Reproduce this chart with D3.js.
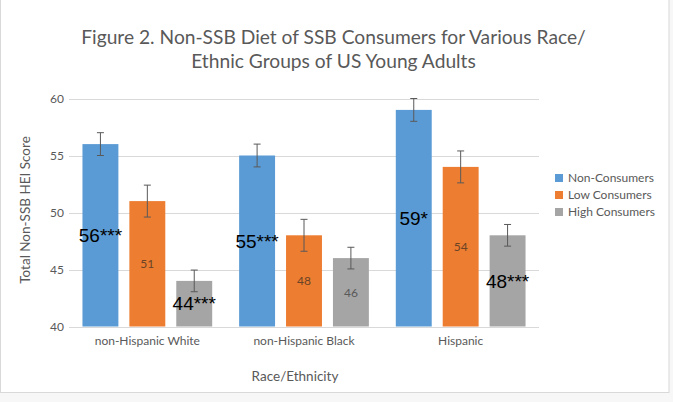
<!DOCTYPE html>
<html>
<head>
<meta charset="utf-8">
<script src="https://cdn.jsdelivr.net/npm/d3@7"></script>
<style>
html,body{margin:0;padding:0;background:#f7f7f7;}
svg{display:block;}
</style>
</head>
<body>
<script>
const categories = ["non-Hispanic White", "non-Hispanic Black", "Hispanic"];
const seriesNames = ["Non-Consumers", "Low Consumers", "High Consumers"];
const nonConsumers = [56, 55, 59];
const lowConsumers = [51, 48, 54];
const highConsumers = [44, 46, 48];
const nonErr = [1.0, 1.0, 1.0];
const lowErr = [1.4, 1.4, 1.4];
const highErr = [0.95, 0.95, 0.95];
const nonLabels = ["56***", "55***", "59*"];
const lowLabels = ["51", "48", "54"];
const highLabels = ["44***", "46", "48***"];
const yTicks = [40, 45, 50, 55, 60];
const colors = ["#5B9BD5", "#ED7D31", "#A5A5A5"];

(function () {
const W = 673, H = 402;
const svg = d3.select("body").append("svg").attr("width", W).attr("height", H);
svg.append("rect").attr("x", 0.5).attr("y", -1).attr("width", 668.5).attr("height", 393.5)
  .attr("fill", "#ffffff").attr("stroke", "#d9d9d9");

const font = "Lato, 'Open Sans', sans-serif";
const pLeft = 69, pRight = 539, pTop = 98.5, pBottom = 326.5;

const x0 = d3.scaleBand().domain(categories).range([pLeft, pRight]).padding(0);
const x1 = d3.scaleBand().domain(seriesNames).range([0, x0.bandwidth()]).paddingInner(0.234).paddingOuter(0.287);
const y = d3.scaleLinear().domain([40, 60]).range([pBottom, pTop]);

svg.append("g").selectAll("line").data(yTicks).join("line")
  .attr("x1", pLeft).attr("x2", pRight)
  .attr("y1", d => Math.round(y(d)) + 0.5).attr("y2", d => Math.round(y(d)) + 0.5)
  .attr("stroke", "#d9d9d9").attr("stroke-width", 1);

svg.append("g").selectAll("text").data(yTicks).join("text")
  .attr("x", 64).attr("y", d => y(d)).attr("dy", "0.35em")
  .attr("text-anchor", "end").attr("font-family", font).attr("font-size", 12)
  .attr("fill", "#595959").text(d => d);

const series = [
  {name: seriesNames[0], vals: nonConsumers, err: nonErr, labels: nonLabels},
  {name: seriesNames[1], vals: lowConsumers, err: lowErr, labels: lowLabels},
  {name: seriesNames[2], vals: highConsumers, err: highErr, labels: highLabels}
];

const items = [];
series.forEach((s, si) => {
  categories.forEach((c, ci) => {
    items.push({cat: c, si, name: s.name, v: s.vals[ci], e: s.err[ci], label: s.labels[ci]});
  });
});

const cx = d => x0(d.cat) + x1(d.name) + x1.bandwidth() / 2;
const g = svg.append("g");
g.selectAll("rect.bar").data(items).join("rect").attr("class", "bar")
  .attr("x", d => x0(d.cat) + x1(d.name))
  .attr("y", d => y(d.v))
  .attr("width", x1.bandwidth())
  .attr("height", d => y(40) - y(d.v))
  .attr("fill", d => colors[d.si]);

const eb = g.selectAll("g.eb").data(items).join("g").attr("class", "eb")
  .attr("stroke", "#595959").attr("stroke-width", 1);
eb.append("line").attr("x1", cx).attr("x2", cx)
  .attr("y1", d => y(d.v + d.e)).attr("y2", d => y(d.v - d.e));
eb.append("line").attr("x1", d => cx(d) - 3.5).attr("x2", d => cx(d) + 3.5)
  .attr("y1", d => y(d.v + d.e)).attr("y2", d => y(d.v + d.e));
eb.append("line").attr("x1", d => cx(d) - 3.5).attr("x2", d => cx(d) + 3.5)
  .attr("y1", d => y(d.v - d.e)).attr("y2", d => y(d.v - d.e));

g.selectAll("text.lab").data(items).join("text").attr("class", "lab")
  .attr("x", cx)
  .attr("y", d => (y(d.v) + y(40)) / 2)
  .attr("dy", "0.35em")
  .attr("text-anchor", "middle")
  .attr("font-family", d => d.label.includes("*") ? "'Liberation Sans', Arial, sans-serif" : font)
  .attr("font-size", d => d.label.includes("*") ? 19 : 12)
  .attr("fill", d => d.label.includes("*") ? "#000000" : (d.si === 1 ? "#6b4426" : "#595959"))
  .text(d => d.label);

svg.append("line").attr("x1", pLeft).attr("x2", pRight)
  .attr("y1", Math.round(y(40)) + 0.5).attr("y2", Math.round(y(40)) + 0.5)
  .attr("stroke", "#d9d9d9");

svg.append("g").selectAll("text").data(categories).join("text")
  .attr("x", d => x0(d) + x0.bandwidth() / 2).attr("y", 341).attr("dy", "0.35em")
  .attr("text-anchor", "middle").attr("font-family", font).attr("font-size", 12)
  .attr("fill", "#595959").text(d => d);

svg.append("text").attr("x", 295).attr("y", 376).attr("dy", "0.35em")
  .attr("text-anchor", "middle").attr("font-family", font).attr("font-size", 13.5)
  .attr("fill", "#595959").text("Race/Ethnicity");
svg.append("text").attr("transform", "translate(25,210) rotate(-90)").attr("dy", "0.35em")
  .attr("text-anchor", "middle").attr("font-family", font).attr("font-size", 13.5)
  .attr("fill", "#595959").text("Total Non-SSB HEI Score");

svg.append("text").attr("x", 333.5).attr("y", 44)
  .attr("text-anchor", "middle").attr("font-family", font).attr("font-size", 19.2)
  .attr("fill", "#595959").text("Figure 2. Non-SSB Diet of SSB Consumers for Various Race/");
svg.append("text").attr("x", 333.5).attr("y", 68)
  .attr("text-anchor", "middle").attr("font-family", font).attr("font-size", 19.2)
  .attr("fill", "#595959").text("Ethnic Groups of US Young Adults");

const leg = svg.append("g").selectAll("g").data(seriesNames).join("g")
  .attr("transform", (d, i) => `translate(555,${178 + i * 17})`);
leg.append("rect").attr("x", 0).attr("y", -4).attr("width", 8).attr("height", 8)
  .attr("fill", (d, i) => colors[i]);
leg.append("text").attr("x", 13).attr("y", 0).attr("dy", "0.35em")
  .attr("font-family", font).attr("font-size", 12).attr("fill", "#595959").text(d => d);
})();
</script>
</body>
</html>
